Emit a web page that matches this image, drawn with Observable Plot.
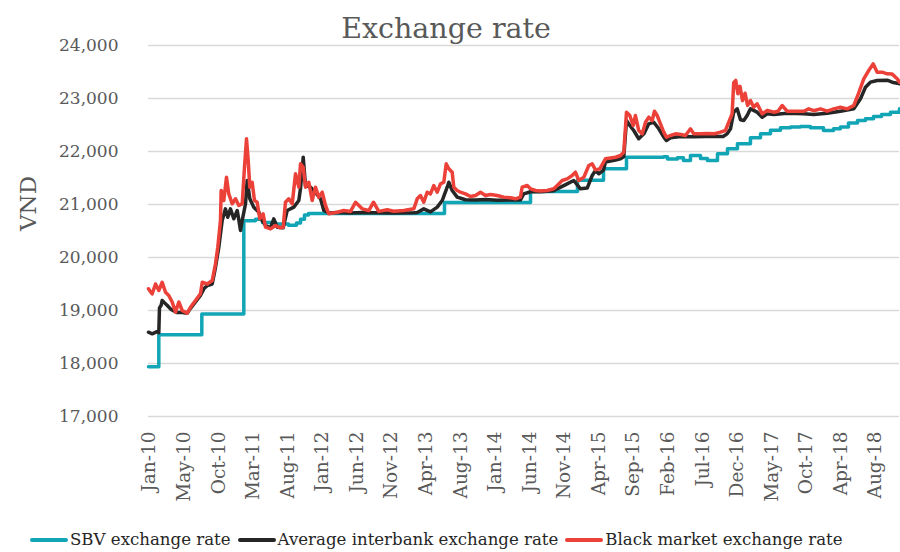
<!DOCTYPE html>
<html><head><meta charset="utf-8">
<script src="https://cdn.jsdelivr.net/npm/d3@7"></script>
<script src="https://cdn.jsdelivr.net/npm/@observablehq/plot@0.6"></script>
<style>
body{margin:0;background:#fff;}
#wrap{position:relative;width:900px;height:552px;font-family:"DejaVu Serif",serif;overflow:hidden;}
#title{position:absolute;left:0;width:892px;top:15px;text-align:center;font-size:28.5px;line-height:1;color:#595959;}
#chart{position:absolute;left:0;top:40px;}
#legend{position:absolute;left:30px;top:532px;display:flex;align-items:center;font-size:16.6px;line-height:1;color:#262626;white-space:nowrap;}
.item{display:flex;align-items:center;margin-right:7px;}
.sw{width:38px;height:4px;margin-right:2px;border-radius:2px;}
</style></head>
<body>
<div id="wrap">
  <div id="title">Exchange rate</div>
  <div id="chart"></div>
  <div id="legend"></div>
</div>
<script>
// ---- data (decimal years) ----
const seriesNames = ["SBV exchange rate", "Average interbank exchange rate", "Black market exchange rate"];
const seriesColors = ["#12a5b5", "#262626", "#ec4139"];

const sbvYears = [2010.000,2010.122,2010.631,2011.128,2011.266,2011.349,2011.503,2011.657,2011.751,2011.799,2011.846,2011.893,
  2013.503,2014.521,2015.077,2015.385,2015.657,2016.095,2016.142,2016.260,2016.331,2016.414,2016.533,2016.615,2016.734,
  2016.852,2016.970,2017.124,2017.243,2017.361,2017.479,2017.598,2017.716,2017.834,2017.988,2018.107,2018.189,2018.284,
  2018.391,2018.485,2018.580,2018.675,2018.781,2018.888];
const sbvRates = [17941,18544,18932,20693,20720,20660,20630,20610,20650,20720,20800,20828,
  21036,21246,21458,21673,21890,21900,21860,21880,21830,21925,21870,21830,21956,
  22050,22145,22260,22333,22400,22447,22460,22472,22450,22396,22430,22460,22540,
  22585,22620,22660,22700,22740,22805];

const interYears = [2010.000,2010.044,2010.100,2010.122,2010.130,2010.150,2010.162,2010.185,2010.220,2010.260,2010.300,2010.340,
  2010.400,2010.458,2010.497,2010.556,2010.615,2010.660,2010.695,2010.754,2010.793,2010.832,2010.872,2010.911,2010.938,
  2010.970,2011.009,2011.050,2011.070,2011.089,2011.109,2011.148,2011.168,2011.199,2011.246,2011.305,2011.346,2011.385,
  2011.444,2011.483,2011.523,2011.594,2011.641,2011.720,2011.779,2011.799,2011.831,2011.858,2011.917,2011.976,2012.036,
  2012.075,2012.134,2012.233,2012.391,2012.529,2012.686,2012.903,2013.140,2013.180,2013.258,2013.337,2013.417,2013.476,
  2013.535,2013.554,2013.594,2013.653,2013.751,2013.870,2013.988,2014.127,2014.284,2014.402,2014.441,2014.521,2014.639,
  2014.796,2014.837,2014.955,2015.033,2015.112,2015.192,2015.251,2015.290,2015.329,2015.385,2015.408,2015.527,2015.586,
  2015.625,2015.657,2015.696,2015.743,2015.802,2015.862,2015.921,2015.980,2016.039,2016.098,2016.130,2016.178,2016.300,
  2016.450,2016.600,2016.800,2016.848,2016.888,2016.926,2016.967,2017.006,2017.045,2017.085,2017.124,2017.203,2017.263,
  2017.322,2017.400,2017.558,2017.755,2017.873,2018.032,2018.189,2018.347,2018.426,2018.485,2018.544,2018.624,2018.742,
  2018.801,2018.861,2018.888];
const interRates = [18590,18560,18600,18580,19050,19100,19190,19150,19100,19030,18990,18960,
  18960,18950,19040,19160,19283,19420,19470,19500,19815,20195,20698,20918,20760,
  20918,20730,20886,20700,20510,20698,21013,21453,21107,20950,20855,20698,20603,
  20560,20730,20572,20560,20886,20950,21075,21300,21892,21358,21327,21230,21107,
  20886,20840,20850,20840,20850,20845,20840,20845,20850,20918,20860,20950,21075,
  21327,21420,21264,21139,21090,21085,21095,21080,21085,21085,21200,21240,21240,
  21260,21296,21390,21453,21296,21310,21547,21641,21580,21650,21799,21840,21862,
  21900,22585,22490,22396,22240,22333,22522,22553,22428,22270,22207,22260,22283,
  22280,22285,22283,22333,22428,22742,22805,22600,22585,22679,22805,22742,22647,
  22710,22700,22723,22710,22698,22720,22760,22805,22994,23213,23308,23340,23345,
  23308,23289,23277];

const blackYears = [2010.000,2010.020,2010.044,2010.083,2010.122,2010.162,2010.201,2010.240,2010.280,2010.320,2010.359,2010.399,
  2010.458,2010.497,2010.556,2010.615,2010.636,2010.695,2010.754,2010.793,2010.820,2010.852,2010.860,2010.891,2010.923,
  2010.950,2010.991,2011.030,2011.069,2011.109,2011.136,2011.160,2011.180,2011.199,2011.227,2011.254,2011.286,2011.317,
  2011.357,2011.385,2011.444,2011.503,2011.562,2011.594,2011.621,2011.660,2011.701,2011.740,2011.779,2011.799,2011.831,
  2011.858,2011.897,2011.937,2011.976,2012.015,2012.056,2012.095,2012.134,2012.233,2012.311,2012.391,2012.450,2012.529,
  2012.607,2012.663,2012.725,2012.825,2012.903,2013.021,2013.140,2013.180,2013.219,2013.258,2013.298,2013.337,2013.376,
  2013.417,2013.456,2013.495,2013.523,2013.554,2013.594,2013.613,2013.653,2013.692,2013.751,2013.811,2013.870,2013.929,
  2013.988,2014.047,2014.127,2014.205,2014.284,2014.343,2014.402,2014.422,2014.482,2014.521,2014.580,2014.639,2014.718,
  2014.796,2014.837,2014.896,2014.955,2015.014,2015.053,2015.092,2015.152,2015.211,2015.251,2015.290,2015.341,2015.408,
  2015.527,2015.586,2015.625,2015.657,2015.696,2015.736,2015.763,2015.802,2015.843,2015.882,2015.921,2015.961,2015.988,
  2016.020,2016.059,2016.098,2016.130,2016.178,2016.237,2016.300,2016.355,2016.414,2016.453,2016.533,2016.612,2016.700,
  2016.769,2016.828,2016.867,2016.907,2016.926,2016.950,2016.975,2017.000,2017.030,2017.060,2017.090,2017.124,2017.163,
  2017.203,2017.263,2017.322,2017.400,2017.450,2017.499,2017.558,2017.755,2017.814,2017.873,2017.953,2018.032,2018.110,
  2018.189,2018.268,2018.347,2018.394,2018.465,2018.524,2018.576,2018.624,2018.683,2018.742,2018.801,2018.861,2018.888];
const blackRates = [19410,19360,19315,19500,19377,19533,19345,19283,19160,18970,19160,19000,
  18950,19060,19190,19315,19533,19500,19565,19880,20195,20698,21264,21075,21515,
  21200,21013,21107,20981,21013,21703,22240,21830,21327,21420,21075,21043,20730,
  20824,20572,20540,20603,20560,20572,21043,21107,21013,21580,21327,21767,21703,
  21327,21420,21075,21327,21139,21232,20981,20824,20855,20886,20870,21043,20918,
  20886,21043,20870,20900,20873,20886,20918,21107,21170,21043,21232,21200,21358,
  21232,21390,21420,21767,21673,21610,21327,21264,21232,21200,21150,21170,21232,
  21170,21190,21170,21139,21126,21107,21139,21327,21358,21296,21264,21255,21264,
  21296,21358,21453,21484,21547,21610,21453,21515,21735,21767,21654,21673,21862,
  21892,21925,21987,22742,22679,22490,22679,22396,22333,22553,22647,22585,22760,
  22679,22522,22365,22270,22302,22333,22320,22302,22428,22333,22333,22340,22335,
  22365,22396,22553,22710,23300,23340,23088,23230,22960,23100,22868,22962,22836,
  22900,22710,22773,22742,22760,22868,22760,22760,22805,22770,22805,22760,22805,
  22836,22805,22868,23057,23371,23528,23654,23497,23497,23466,23460,23371,23308];

const yTicks = [17000,18000,19000,20000,21000,22000,23000,24000];
const xTickLabels = ["Jan-10","May-10","Oct-10","Mar-11","Aug-11","Jan-12","Jun-12","Nov-12","Apr-13","Aug-13","Jan-14",
  "Jun-14","Nov-14","Apr-15","Sep-15","Feb-16","Jul-16","Dec-16","May-17","Oct-17","Apr-18","Aug-18"];
const xTickFirst = 2010.012, xTickLast = 2018.604; // positions of first/last label (evenly spaced category ticks)

// ---- build ----
const toDate = y => new Date(Date.UTC(2010,0,1) + (y - 2010) * 365.25 * 86400000);
const mk = (ys, vs) => ys.map((y, i) => ({date: toDate(y), value: vs[i]}));
const sbv = mk(sbvYears, sbvRates), inter = mk(interYears, interRates), black = mk(blackYears, blackRates);
const tickDates = xTickLabels.map((_, i) => toDate(xTickFirst + i * (xTickLast - xTickFirst) / (xTickLabels.length - 1)));
const labelMap = new Map(tickDates.map((d, i) => [+d, xTickLabels[i]]));

const plot = Plot.plot({
  width: 900, height: 480,
  marginTop: 5, marginBottom: 104, marginLeft: 148, marginRight: 1,
  style: {fontFamily: "DejaVu Serif", fontSize: "17px", color: "#595959", background: "transparent", overflow: "visible"},
  x: {type: "utc", domain: [toDate(2010), toDate(2018.888)]},
  y: {domain: [17000, 24000]},
  marks: [
    Plot.gridY(yTicks, {stroke: "#d9d9d9", strokeOpacity: 1, strokeWidth: 1.3}),
    Plot.axisY(yTicks, {tickSize: 0, tickPadding: 30, tickFormat: d3.format(","), fontSize: 17, label: null}),
    Plot.axisX(tickDates, {tickSize: 0, tickPadding: 15, tickRotate: -90, tickFormat: d => labelMap.get(+d), fontSize: 18.5, label: null}),
    Plot.line(sbv, {x: "date", y: "value", curve: "step-after", stroke: seriesColors[0], strokeWidth: 3.5}),
    Plot.line(inter, {x: "date", y: "value", stroke: seriesColors[1], strokeWidth: 3.5, strokeLinejoin: "round"}),
    Plot.line(black, {x: "date", y: "value", stroke: seriesColors[2], strokeWidth: 3.5, strokeLinejoin: "round"}),
    Plot.text(["VND"], {frameAnchor: "left", text: d => d, rotate: -90, dx: -120, fontSize: 23, fill: "#595959"})
  ]
});
document.getElementById("chart").appendChild(plot);

const leg = document.getElementById("legend");
seriesNames.forEach((n, i) => {
  const it = document.createElement("div"); it.className = "item";
  const sw = document.createElement("span"); sw.className = "sw"; sw.style.background = seriesColors[i];
  const tx = document.createElement("span"); tx.textContent = n;
  it.appendChild(sw); it.appendChild(tx); leg.appendChild(it);
});
</script>
</body></html>
